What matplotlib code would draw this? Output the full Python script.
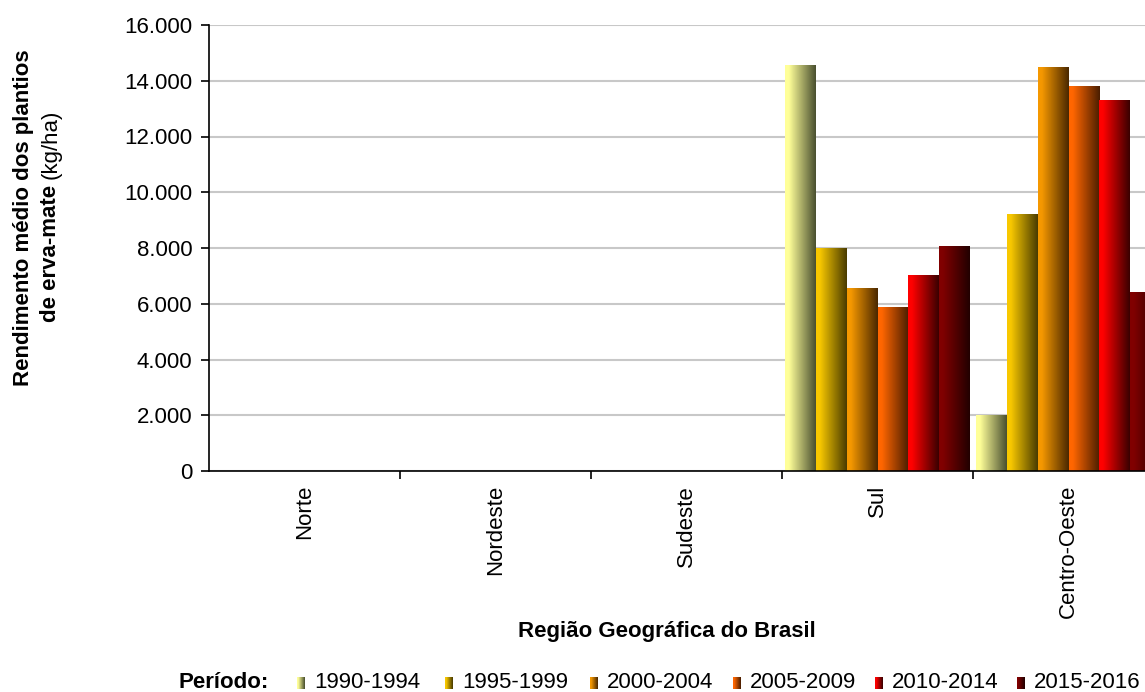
import numpy as np
import matplotlib
matplotlib.use('Agg')
from matplotlib import pyplot as plt
from matplotlib.colors import to_rgb
from matplotlib.ticker import FuncFormatter, MultipleLocator

plt.rcParams['font.family'] = ['Liberation Sans', 'DejaVu Sans']

W, H = 1145, 692  # pixels

regions = ['Norte', 'Nordeste', 'Sudeste', 'Sul', 'Centro-Oeste']
periods = ['1990-1994', '1995-1999', '2000-2004', '2005-2009', '2010-2014', '2015-2016']

# rendimento medio (kg/ha) por periodo, uma lista por regiao
norte = [0, 0, 0, 0, 0, 0]
nordeste = [0, 0, 0, 0, 0, 0]
sudeste = [0, 0, 0, 0, 0, 0]
sul = [14530, 7990, 6530, 5870, 7030, 8040]
centro_oeste = [2000, 9210, 14470, 13800, 13300, 6420]
values = [norte, nordeste, sudeste, sul, centro_oeste]

# light -> dark colours of each period's gradient
light_colors = ['#ffff99', '#f8c800', '#f59800', '#ff6600', '#ff0000', '#800000']
dark_colors = ['#4a5030', '#4a3c00', '#4a2800', '#4a1e00', '#3a0000', '#220000']


def gradient(light, dark, n=64):
    t = np.linspace(0, 1, n)
    t = np.clip((t - 0.12) / 0.88, 0, 1)
    c0 = np.array(to_rgb(light))
    c1 = np.array(to_rgb(dark))
    return (c0[None, :] * (1 - t[:, None]) + c1[None, :] * t[:, None])[None, :, :]


fig = plt.figure(figsize=(W / 100, H / 100), dpi=100)
# axes runs past the right edge of the picture, like the original screenshot
ax = fig.add_axes([209 / W, 1 - 471 / H, 955 / W, 446 / H])

bar_w = 0.162
for i, reg_vals in enumerate(values):
    for j, v in enumerate(reg_vals):
        if v <= 0:
            continue
        x0 = i + (j - 3) * bar_w
        ax.imshow(gradient(light_colors[j], dark_colors[j]), extent=[x0, x0 + bar_w, 0, v],
                  aspect='auto', interpolation='bilinear', zorder=2)

ax.set_xlim(-0.5, len(regions) - 0.5)
ax.set_ylim(0, 16000)
ax.yaxis.set_major_locator(MultipleLocator(2000))
ax.yaxis.set_major_formatter(FuncFormatter(lambda v, p: f'{int(v):,}'.replace(',', '.')))
ax.grid(axis='y', color='#c8c8c8', linewidth=1.5, zorder=0)
ax.set_axisbelow(True)

for s in ['top', 'right']:
    ax.spines[s].set_visible(False)
ax.spines['left'].set_linewidth(1.2)
ax.spines['bottom'].set_linewidth(1.2)

ax.set_xticks(range(len(regions)))
ax.set_xticklabels(regions, rotation=90, va='top', ha='center', fontsize=16)
ax.set_xticks(np.arange(0.5, len(regions) - 0.5, 1), minor=True)
ax.tick_params(axis='x', which='major', length=0, pad=10)
ax.tick_params(axis='x', which='minor', length=6, width=1.2, direction='out')
ax.tick_params(axis='y', length=6, width=1.2, direction='out', labelsize=16, pad=6)

fig.text(667 / W, 1 - 632 / H, 'Região Geográfica do Brasil', ha='center', va='center',
         fontsize=16, fontweight='bold')

# y label: first line bold, second line bold + normal units
fig.text(24 / W, 1 - 218 / H, 'Rendimento médio dos plantios', rotation=90,
         ha='center', va='center', fontsize=16, fontweight='bold')
part1 = 'de erva-mate '
part2 = '(kg/ha)'
renderer = fig.canvas.get_renderer()
t1 = fig.text(0, 0, part1, rotation=90, fontsize=16, fontweight='bold')
t2 = fig.text(0, 0, part2, rotation=90, fontsize=16)
h1 = t1.get_window_extent(renderer).height
h2 = t2.get_window_extent(renderer).height
y0 = (H - 216) - (h1 + h2) / 2
t1.set_position((51 / W, y0 / H))
t1.set_ha('center')
t1.set_va('bottom')
t2.set_position((51 / W, (y0 + h1) / H))
t2.set_ha('center')
t2.set_va('bottom')

# legend at the bottom
ly = 1 - 683 / H
fig.text(178 / W, ly, 'Período:', ha='left', va='center', fontsize=16, fontweight='bold')
marker_x = [297, 445, 590, 733, 875, 1017]
for j, p in enumerate(periods):
    max_ = fig.add_axes([marker_x[j] / W, 1 - 689 / H, 8 / W, 12 / H])
    max_.imshow(gradient(light_colors[j], dark_colors[j], 16), aspect='auto',
                interpolation='bilinear')
    max_.axis('off')
    fig.text((marker_x[j] + 17) / W, ly, p, ha='left', va='center', fontsize=16)

fig.savefig('out.png', dpi=100)
